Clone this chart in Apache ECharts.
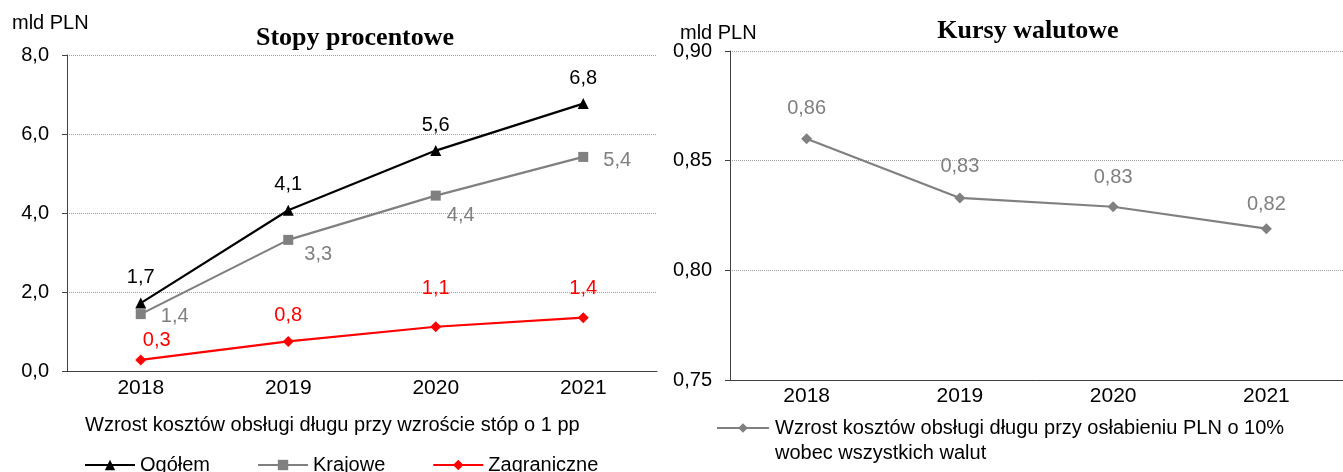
<!DOCTYPE html>
<html>
<head>
<meta charset="UTF-8">
<title>Koszty obsługi długu</title>
<script src="https://cdn.jsdelivr.net/npm/echarts@6/dist/echarts.min.js"></script>
</head>
<body style="margin:0;background:#fff">
<div id="chart" style="width:1343px;height:472px;"></div>
<script>
var years = ['2018', '2019', '2020', '2021'];
var ogolem = [1.72, 4.07, 5.58, 6.77];
var krajowe = [1.44, 3.32, 4.44, 5.42];
var zagraniczne = [0.28, 0.75, 1.12, 1.35];
var kursy = [0.86, 0.833, 0.829, 0.819];

// przesunięcia etykiet (dx, dy) względem punktu
var krajoweShift = [[34, 2], [30, 15], [25, 20], [34, 4]];
var zagraniczneShift = [[16, -19], [0, -26], [0, -38], [0, -29]];
var kursyShift = [[0, -30], [0, -31], [0, -29], [0, -24]];

var arial = '"Liberation Sans", Arial, sans-serif';
var serif = '"Liberation Serif", "Times New Roman", serif';

function pl(v, d) { return Number(v).toFixed(d).replace('.', ','); }

function shifted(values, shifts) {
    return values.map(function (v, i) {
        return { value: v, label: { offset: shifts[i] } };
    });
}

var chart = echarts.init(document.getElementById('chart'));

var option = {
    backgroundColor: '#fff',
    animation: false,
    title: [
        { text: 'Stopy procentowe', left: 350, top: 20, textAlign: 'center',
          textStyle: { fontFamily: serif, fontWeight: 'bold', fontSize: 26, color: '#000' } },
        { text: 'Kursy walutowe', left: 1023, top: 13, textAlign: 'center',
          textStyle: { fontFamily: serif, fontWeight: 'bold', fontSize: 26, color: '#000' } },
        { text: 'mld PLN', left: 7, top: 8,
          textStyle: { fontFamily: arial, fontWeight: 'normal', fontSize: 20, color: '#000' } },
        { text: 'mld PLN', left: 675, top: 18,
          textStyle: { fontFamily: arial, fontWeight: 'normal', fontSize: 20, color: '#000' } },
        { text: 'Wzrost kosztów obsługi długu przy wzroście stóp o 1 pp', left: 80, top: 410,
          textStyle: { fontFamily: arial, fontWeight: 'normal', fontSize: 20, color: '#000' } },
        { text: 'wobec wszystkich walut', left: 770, top: 438,
          textStyle: { fontFamily: arial, fontWeight: 'normal', fontSize: 20, color: '#000' } }
    ],
    legend: [
        { data: ['Ogółem', 'Krajowe', 'Zagraniczne'], left: 79, top: 450, itemWidth: 50, itemHeight: 13,
          itemGap: 47, textStyle: { fontFamily: arial, fontSize: 20, color: '#000' } },
        { data: ['Wzrost kosztów obsługi długu przy osłabieniu PLN o 10%'],
          left: 711, top: 413, itemWidth: 52, itemHeight: 12,
          textStyle: { fontFamily: arial, fontSize: 20, color: '#000', padding: [0, 0, 0, 1] } }
    ],
    grid: [
        { left: 67, right: 686, top: 55, bottom: 101 },
        { left: 730, right: -10, top: 51, bottom: 92 }
    ],
    xAxis: [
        { type: 'category', gridIndex: 0, data: years, boundaryGap: true,
          axisLine: { lineStyle: { color: '#404040', width: 1 } },
          axisTick: { length: 5, lineStyle: { color: '#404040' } },
          axisLabel: { fontFamily: arial, fontSize: 21, color: '#000', margin: 7 } },
        { type: 'category', gridIndex: 1, data: years, boundaryGap: true,
          axisLine: { lineStyle: { color: '#404040', width: 1 } },
          axisTick: { length: 5, lineStyle: { color: '#404040' } },
          axisLabel: { fontFamily: arial, fontSize: 21, color: '#000', margin: 6 } }
    ],
    yAxis: [
        { type: 'value', gridIndex: 0, min: 0, max: 8, interval: 2,
          axisLine: { show: true, lineStyle: { color: '#404040' } },
          axisTick: { show: true, length: 5, lineStyle: { color: '#404040' } },
          splitLine: { lineStyle: { color: '#a0a0a0', type: 'dotted' } },
          axisLabel: { fontFamily: arial, fontSize: 20, color: '#000', margin: 18,
                       formatter: function (v) { return pl(v, 1); } } },
        { type: 'value', gridIndex: 1, min: 0.75, max: 0.9, interval: 0.05,
          axisLine: { show: true, lineStyle: { color: '#404040' } },
          axisTick: { show: true, length: 5, lineStyle: { color: '#404040' } },
          splitLine: { lineStyle: { color: '#a0a0a0', type: 'dotted' } },
          axisLabel: { fontFamily: arial, fontSize: 20, color: '#000', margin: 18,
                       formatter: function (v) { return pl(v, 2); } } }
    ],
    series: [
        { name: 'Ogółem', type: 'line', xAxisIndex: 0, yAxisIndex: 0, data: ogolem,
          symbol: 'triangle', symbolSize: 11, color: '#000',
          lineStyle: { width: 2.2, color: '#000' },
          label: { show: true, position: 'top', distance: 10, fontFamily: arial, fontSize: 20, color: '#000',
                   formatter: function (p) { return pl(p.value, 1); } } },
        { name: 'Krajowe', type: 'line', xAxisIndex: 0, yAxisIndex: 0, data: shifted(krajowe, krajoweShift),
          symbol: 'rect', symbolSize: 10, color: '#808080',
          lineStyle: { width: 2.2, color: '#808080' },
          label: { show: true, position: 'inside', fontFamily: arial, fontSize: 20, color: '#808080',
                   formatter: function (p) { return pl(p.value, 1); } } },
        { name: 'Zagraniczne', type: 'line', xAxisIndex: 0, yAxisIndex: 0, data: shifted(zagraniczne, zagraniczneShift),
          symbol: 'diamond', symbolSize: 11, color: '#ff0000',
          lineStyle: { width: 2.2, color: '#ff0000' },
          label: { show: true, position: 'inside', fontFamily: arial, fontSize: 20, color: '#ff0000',
                   formatter: function (p) { return pl(p.value, 1); } } },
        { name: 'Wzrost kosztów obsługi długu przy osłabieniu PLN o 10%',
          type: 'line', xAxisIndex: 1, yAxisIndex: 1, data: shifted(kursy, kursyShift),
          symbol: 'diamond', symbolSize: 11, color: '#808080',
          lineStyle: { width: 2.2, color: '#808080' },
          label: { show: true, position: 'inside', fontFamily: arial, fontSize: 20, color: '#808080',
                   formatter: function (p) { return pl(p.value, 2); } } }
    ]
};

chart.setOption(option);
</script>
</body>
</html>
